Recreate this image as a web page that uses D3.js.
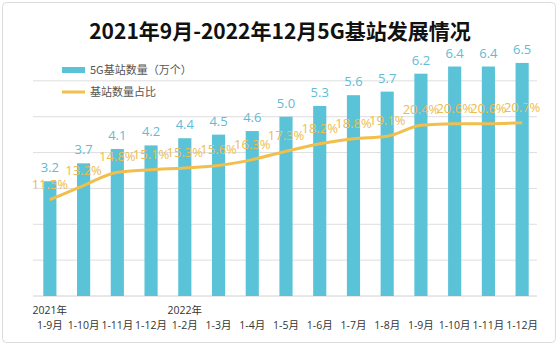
<!DOCTYPE html>
<html><head><meta charset="utf-8">
<script src="https://cdn.jsdelivr.net/npm/d3@7"></script>
<style>body{margin:0;background:#fff}svg{display:block}</style>
</head><body><svg id="c" width="559" height="350"></svg>
<script>
const categories = ["1-9月","1-10月","1-11月","1-12月","1-2月","1-3月","1-4月","1-5月","1-6月","1-7月","1-8月","1-9月","1-10月","1-11月","1-12月"];
const yearLabels = [{i:0,t:"2021年"},{i:4,t:"2022年"}];
const stations = [3.2,3.7,4.1,4.2,4.4,4.5,4.6,5.0,5.3,5.6,5.7,6.2,6.4,6.4,6.5];
const share = [11.5,13.2,14.8,15.1,15.3,15.6,16.3,17.3,18.2,18.8,19.1,20.4,20.6,20.6,20.7];
const yTicks = [0,1,2,3,4,5,6];
const title = "2021年9月-2022年12月5G基站发展情况";
const legendBar = "5G基站数量（万个）";
const legendLine = "基站数量占比";

const svg = d3.select("#c");
const barColor = "#5BC3D8", lineColor = "#F2BE4C", barLabel = "#62BBD3", lineLabel = "#EDBC4E";
const numFont = "'Open Sans','Noto Sans CJK SC',sans-serif";

svg.append("rect").attr("x",2.5).attr("y",2.5).attr("width",553).attr("height",340).attr("rx",4)
  .attr("fill","#fff").attr("stroke","#dcdcdc");

const x = d3.scaleBand().domain(d3.range(categories.length)).range([33,539]).paddingInner(0.61).paddingOuter(0.305);
const y = d3.scaleLinear().domain([0,7]).range([296,45]);
const y2 = d3.scaleLinear().domain([0,30]).range([296,45]);

svg.append("g").selectAll("line").data(yTicks.slice(1)).join("line")
  .attr("x1",33).attr("x2",537).attr("y1",d=>y(d)).attr("y2",d=>y(d))
  .attr("stroke","#dedede").attr("stroke-width",1);
svg.append("line").attr("x1",33).attr("x2",537).attr("y1",y(0)).attr("y2",y(0)).attr("stroke","#d0d0d0");

svg.append("text").attr("x",280).attr("y",39).attr("text-anchor","middle")
  .attr("font-family","'Noto Sans CJK SC',sans-serif").attr("font-weight","bold").attr("font-size",21)
  .attr("fill","#111").text(title);

svg.append("g").selectAll("rect").data(stations).join("rect")
  .attr("x",(d,i)=>x(i)).attr("width",x.bandwidth()).attr("y",d=>y(d)).attr("height",d=>y(0)-y(d))
  .attr("fill",barColor);

const cx = i => x(i)+x.bandwidth()/2;
svg.append("path").datum(share)
  .attr("d",d3.line().x((d,i)=>cx(i)).y(d=>y2(d)).curve(d3.curveMonotoneX))
  .attr("fill","none").attr("stroke",lineColor).attr("stroke-width",3);

svg.append("g").selectAll("text").data(stations).join("text")
  .attr("x",(d,i)=>cx(i)).attr("y",d=>y(d)-9).attr("text-anchor","middle")
  .attr("font-family",numFont).attr("font-size",13).attr("fill",barLabel).text(d=>d.toFixed(1));

svg.append("g").selectAll("text").data(share).join("text")
  .attr("x",(d,i)=>cx(i)).attr("y",d=>y2(d)-11).attr("text-anchor","middle")
  .attr("font-family",numFont).attr("font-size",13).attr("fill",lineLabel).text(d=>d.toFixed(1)+"%");

svg.append("g").selectAll("text").data(categories).join("text")
  .attr("x",(d,i)=>cx(i)).attr("y",329).attr("text-anchor","middle")
  .attr("font-family",numFont).attr("font-size",10.5).attr("fill","#333").text(d=>d);
svg.append("g").selectAll("text").data(yearLabels).join("text")
  .attr("x",d=>cx(d.i)).attr("y",314).attr("text-anchor","middle")
  .attr("font-family",numFont).attr("font-size",10.5).attr("fill","#333").text(d=>d.t);

// legend
svg.append("rect").attr("x",62).attr("y",67).attr("width",23).attr("height",6).attr("fill",barColor);
svg.append("text").attr("x",90).attr("y",74).attr("font-family","'Noto Sans CJK SC',sans-serif")
  .attr("font-size",11).attr("fill","#555").text(legendBar);
svg.append("line").attr("x1",62).attr("x2",85).attr("y1",92).attr("y2",92).attr("stroke",lineColor).attr("stroke-width",3);
svg.append("text").attr("x",90).attr("y",96).attr("font-family","'Noto Sans CJK SC',sans-serif")
  .attr("font-size",11).attr("fill","#555").text(legendLine);
</script></body></html>
